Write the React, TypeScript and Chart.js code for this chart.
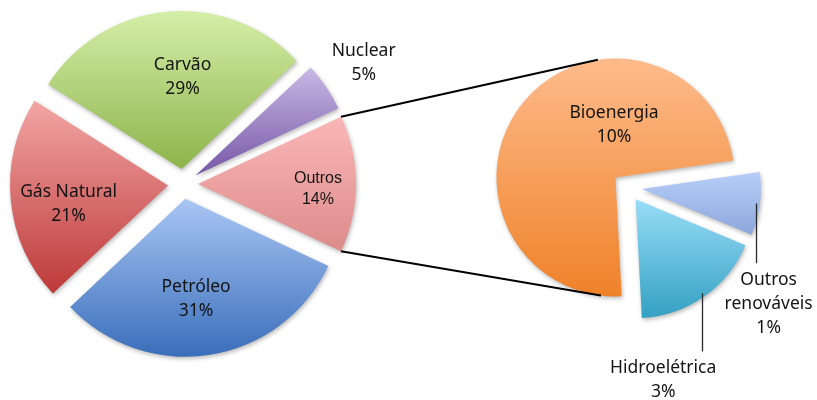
import { useEffect, useRef } from "react";
import { Chart, registerables } from "chart.js";

Chart.register(...registerables);

// ---------- data ----------
const mainLabels = ["Carvão", "Nuclear", "Outros", "Petróleo", "Gás Natural"];
const mainValues = [29, 5, 14, 31, 21];
const subLabels = ["Bioenergia", "Outros renováveis", "Hidroelétrica"];
const subValues = [10.3, 1.2, 2.5];

// ---------- styles ----------
const mainTop = ["#d5eea8", "#c8b8e4", "#fab7b6", "#a9c6f4", "#f2a6a5"];
const mainBottom = ["#8db44b", "#7657a6", "#dd8b8b", "#3a6eba", "#bd3939"];
const subTop = ["#fdbb8b", "#b7cef9", "#98ddf7"];
const subBottom = ["#ef8229", "#8da7da", "#34a0c3"];

const NOTO = "17.5px 'Noto Sans'";
const ARIAL = "16px 'Liberation Sans'";
const TEXT = "#141414";

const mainLabelFrac = [0.58, 1.28, 0.76, 0.64, 0.64];
const mainLabelShift = [6, 0.5, 2.6, 2.9, -5];
const mainLabelFont = [NOTO, NOTO, ARIAL, NOTO, NOTO];
const mainLineHeight = [24, 24, 21, 24, 24];

const subLabelFrac = [0.44, 1.44, 1.54];
const subLabelShift = [49, 35, 26.5];
const subLeader = [false, true, true];

const connectorAngles = [-8.5, 187];
const EXPLODE = 15;

const rad = (d: number) => (d * Math.PI) / 180;

function arcYRange(x: number, y: number, r: number, s: number, e: number) {
  let minY = y;
  let maxY = y;
  const check = (a: number) => {
    const py = y + Math.sin(a) * r;
    minY = Math.min(minY, py);
    maxY = Math.max(maxY, py);
  };
  check(s);
  check(e);
  const q = Math.PI / 2;
  for (let k = Math.ceil(s / q); k * q <= e; k++) check(k * q);
  return [minY, maxY];
}

function wrap(ctx: CanvasRenderingContext2D, text: string, maxW: number) {
  const words = text.split(" ");
  const lines: string[] = [];
  let cur = "";
  for (const w of words) {
    const t = cur ? cur + " " + w : w;
    if (cur && ctx.measureText(t).width > maxW) {
      lines.push(cur);
      cur = w;
    } else cur = t;
  }
  if (cur) lines.push(cur);
  return lines;
}

type PieStyle = {
  labels: string[];
  values: number[];
  top: string[];
  bottom: string[];
  frac: number[];
  shift: number[];
  fonts: string[];
  lineHeights: number[];
  wrapWidth: number;
  leader: boolean[];
};

function makePiePlugin(st: PieStyle) {
  return {
    id: "pieDecor",
    afterDatasetsUpdate(chart: any) {
      const meta = chart.getDatasetMeta(0);
      const ctx: CanvasRenderingContext2D = chart.ctx;
      meta.data.forEach((el: any, i: number) => {
        const mid = (el.startAngle + el.endAngle) / 2;
        el.x += Math.cos(mid) * EXPLODE;
        el.y += Math.sin(mid) * EXPLODE;
        const [y0, y1] = arcYRange(el.x, el.y, el.outerRadius, el.startAngle, el.endAngle);
        const g = ctx.createLinearGradient(0, y0, 0, y1);
        g.addColorStop(0, st.top[i]);
        g.addColorStop(1, st.bottom[i]);
        el.options = { ...el.options, backgroundColor: g };
      });
    },
    beforeDatasetsDraw(chart: any) {
      const ctx = chart.ctx;
      ctx.save();
      ctx.shadowColor = "rgba(0,0,0,0.28)";
      ctx.shadowBlur = 4;
      ctx.shadowOffsetX = 1;
      ctx.shadowOffsetY = 2;
    },
    afterDatasetsDraw(chart: any) {
      const ctx: CanvasRenderingContext2D = chart.ctx;
      ctx.restore();
      const meta = chart.getDatasetMeta(0);
      ctx.save();
      ctx.fillStyle = TEXT;
      ctx.textAlign = "center";
      ctx.textBaseline = "middle";
      meta.data.forEach((el: any, i: number) => {
        const midRaw = (el.startAngle + el.endAngle) / 2;
        const mid = midRaw + rad(st.shift[i]);
        const dist = st.frac[i] * el.outerRadius;
        const cx = el.x + Math.cos(mid) * dist;
        const cy = el.y + Math.sin(mid) * dist;
        ctx.font = st.fonts[i];
        const lines = wrap(ctx, st.labels[i], st.wrapWidth);
        lines.push(Math.round(st.values[i]) + "%");
        const lh = st.lineHeights[i];
        const firstY = cy - ((lines.length - 1) / 2) * lh;
        lines.forEach((ln, k) => ctx.fillText(ln, cx, firstY + k * lh));
        if (st.leader[i]) {
          const sx = Math.round(el.x + Math.cos(midRaw) * (el.outerRadius - 4)) + 0.5;
          const sy = el.y + Math.sin(midRaw) * (el.outerRadius - 4);
          ctx.beginPath();
          ctx.strokeStyle = "#2a2a2a";
          ctx.lineWidth = 1.3;
          ctx.moveTo(sx, sy);
          ctx.lineTo(sx, firstY - 17);
          ctx.stroke();
        }
      });
      ctx.restore();
    },
  };
}

function baseConfig(labels: string[], values: number[], top: string[], rotation: number, radius: number, padding: any, plugin: any) {
  return {
    type: "pie" as const,
    data: {
      labels,
      datasets: [
        {
          data: values,
          backgroundColor: top,
          borderWidth: 0,
          hoverOffset: 0,
          offset: 0,
        },
      ],
    },
    options: {
      responsive: false,
      animation: false as const,
      rotation,
      radius,
      events: [],
      layout: { padding },
      plugins: { legend: { display: false }, tooltip: { enabled: false } },
    },
    plugins: [plugin],
  };
}

export default function App() {
  const leftRef = useRef<HTMLCanvasElement>(null);
  const rightRef = useRef<HTMLCanvasElement>(null);

  useEffect(() => {
    const left = new Chart(
      leftRef.current!,
      baseConfig(
        mainLabels,
        mainValues,
        mainTop,
        -57.6,
        158,
        { left: 0, top: 0, right: 451, bottom: 32 },
        makePiePlugin({
          labels: mainLabels,
          values: mainValues,
          top: mainTop,
          bottom: mainBottom,
          frac: mainLabelFrac,
          shift: mainLabelShift,
          fonts: mainLabelFont,
          lineHeights: mainLineHeight,
          wrapWidth: 1000,
          leader: mainLabels.map(() => false),
        })
      ) as any
    );

    const connector = {
      id: "connector",
      afterDraw(chart: any) {
        const ctx: CanvasRenderingContext2D = chart.ctx;
        const lm: any = left.getDatasetMeta(0).data[mainLabels.indexOf("Outros")];
        const rm: any = chart.getDatasetMeta(0).data[0];
        if (!lm || !rm) return;
        const ends = [lm.startAngle, lm.endAngle];
        ctx.save();
        ctx.strokeStyle = "#000";
        ctx.lineWidth = 2;
        ends.forEach((a: number, k: number) => {
          const b = rad(connectorAngles[k] - 90);
          ctx.beginPath();
          ctx.moveTo(lm.x + Math.cos(a) * lm.outerRadius, lm.y + Math.sin(a) * lm.outerRadius);
          ctx.lineTo(rm.x + Math.cos(b) * rm.outerRadius, rm.y + Math.sin(b) * rm.outerRadius);
          ctx.stroke();
        });
        ctx.restore();
      },
    };

    const rightCfg: any = baseConfig(
      subLabels,
      subValues,
      subTop,
      177,
      119,
      { left: 437, top: 0, right: 0, bottom: 26 },
      makePiePlugin({
        labels: subLabels,
        values: subValues,
        top: subTop,
        bottom: subBottom,
        frac: subLabelFrac,
        shift: subLabelShift,
        fonts: subLabels.map(() => NOTO),
        lineHeights: subLabels.map(() => 24),
        wrapWidth: 100,
        leader: subLeader,
      })
    );
    rightCfg.plugins.push(connector);
    const right = new Chart(rightRef.current!, rightCfg);

    let alive = true;
    Promise.all([document.fonts.load(NOTO), document.fonts.load(ARIAL)]).then(() => {
      if (!alive) return;
      left.update();
      right.update();
    });

    return () => {
      alive = false;
      right.destroy();
      left.destroy();
    };
  }, []);

  return (
    <div style={{ position: "fixed", left: 0, top: 0, width: 817, height: 400, background: "#fff" }}>
      <canvas ref={leftRef} width={817} height={400} style={{ position: "absolute", left: 0, top: 0 }} />
      <canvas ref={rightRef} width={817} height={400} style={{ position: "absolute", left: 0, top: 0 }} />
    </div>
  );
}
